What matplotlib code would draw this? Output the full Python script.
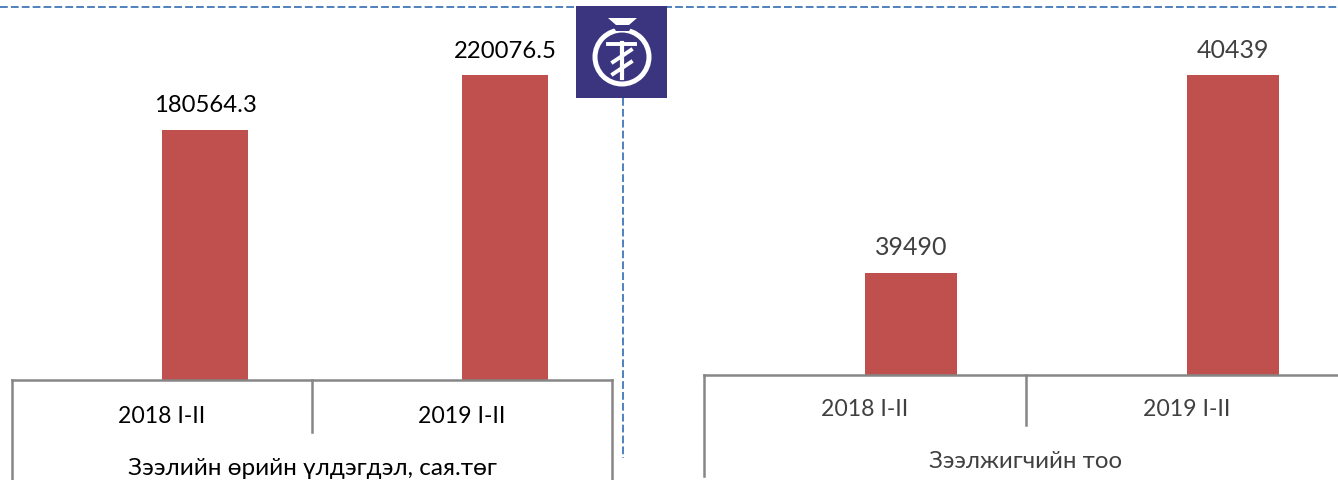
import matplotlib
matplotlib.use('Agg')
import matplotlib.pyplot as plt
from matplotlib.patches import Rectangle, Circle, Polygon

plt.rcParams['font.family'] = ['Lato', 'Noto Sans', 'DejaVu Sans']

W, H = 1338, 481

periods = ['2018 I-II', '2019 I-II']
balance = [180564.3, 220076.5]
borrowers = [39490, 40439]
balance_labels = ['180564.3', '220076.5']
borrower_labels = ['39490', '40439']
balance_title = 'Зээлийн өрийн үлдэгдэл, сая.төг'
borrower_title = 'Зээлжигчийн тоо'

BAR = '#C0504D'
GRID = '#868686'
DASH = '#4F81BD'
NAVY = '#3B3580'

fig = plt.figure(figsize=(W / 100, H / 100), dpi=100, facecolor='white')


def px_axes(x0, y0, x1, y1, **kw):
    # axes from pixel box, y counted from the top of the image
    return fig.add_axes([x0 / W, 1 - y1 / H, (x1 - x0) / W, (y1 - y0) / H], **kw)


def bar_panel(box, values, labels, title, ymin, ymax, bar_w, color, tick_y, title_y, div_end,
              val_size, title_size):
    ax = px_axes(*box)
    ax.patch.set_alpha(0)
    h = box[3] - box[1]
    xs = range(len(values))
    # bars start at the category centre, as in the source chart
    ax.bar(xs, values, width=bar_w, align='edge', color=color, zorder=2)
    ax.set_xlim(-0.5, 1.5)
    ax.set_ylim(ymin, ymax)
    ax.axis('off')
    for x, v, s in zip(xs, values, labels):
        ax.annotate(s, (x + bar_w / 2, v), xytext=(0, 10.5), textcoords='offset points',
                    ha='center', va='bottom', fontsize=val_size, color=title_color[title])
    trans = ax.get_xaxis_transform()
    # multi-level category axis: baseline, outer walls and divider
    ax.plot([-0.5, 1.5], [0, 0], transform=trans, color=GRID, lw=1.8, clip_on=False, zorder=3)
    for x, end in [(-0.5, -101 / h), (0.5, div_end / h), (1.5, -101 / h)]:
        ax.plot([x, x], [0, end], transform=trans, color=GRID, lw=1.8, clip_on=False, zorder=3)
    for x, p in zip(xs, periods):
        ax.text(x, tick_y / h, p, transform=trans, ha='center', va='center',
                fontsize=16.6, color=title_color[title], clip_on=False)
    ax.text(0.5, title_y / h, title, transform=trans, ha='center', va='center',
            fontsize=title_size, color=title_color[title], clip_on=False)
    return ax


title_color = {balance_title: '#000000', borrower_title: '#404040'}

bar_panel((12, 1, 612, 381), balance, balance_labels, balance_title, 0, 274400, 86 / 300, BAR,
          -36, -88, -52, 17.2, 17.5)
bar_panel((704, 1, 1348, 376), borrowers, borrower_labels, borrower_title, 39000, 40801, 92 / 322, BAR,
          -33, -85, -50, 18, 17.3)

# overlay in pixel coordinates: dashed separators and the logo
top = fig.add_axes([0, 0, 1, 1], zorder=5)
top.set_xlim(0, W)
top.set_ylim(H - 1, -1)
top.axis('off')
top.patch.set_alpha(0)
top.plot([0, W], [6.5, 6.5], color=DASH, lw=1.4, ls=(0, (4, 1.6)))
top.plot([623, 623], [98, 458], color=DASH, lw=1.4, ls=(0, (4, 1.6)))
top.add_patch(Rectangle((576, 6), 91, 92, color=NAVY, lw=0, zorder=6))
top.add_patch(Circle((622, 57), 27, fill=False, ec='white', lw=3.6, zorder=7))
top.add_patch(Polygon([[608, 18], [637, 18], [629, 25], [616, 25]], color='white', lw=0, zorder=8))
top.add_patch(Polygon([[612, 25], [633, 25], [629, 31], [616, 31]], color=NAVY, lw=0, zorder=7.5))
top.plot([608, 635], [43.5, 43.5], color='white', lw=2.8, zorder=8)
top.plot([622, 622], [43, 78], color='white', lw=3, zorder=8)
top.plot([613, 631], [62, 50], color='white', lw=2.8, zorder=8)
top.plot([613, 631], [74, 62], color='white', lw=2.8, zorder=8)

fig.savefig('out.png', dpi=100)
